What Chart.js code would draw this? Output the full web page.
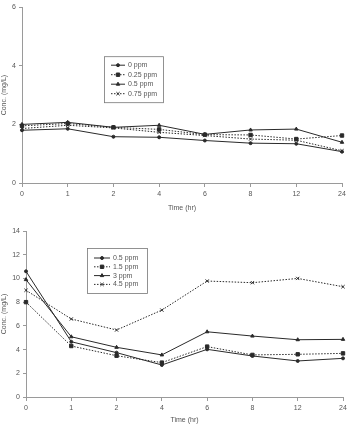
<!DOCTYPE html>
<html lang="en">
  <head>
    <meta charset="UTF-8" />
    <title>conc</title>
    <script src="https://cdn.jsdelivr.net/npm/chart.js@4.4.0/dist/chart.umd.min.js"></script>
    <style>
      body { margin: 0; background: #fff; }
      .box { position: relative; width: 350px; height: 212px; }
    </style>
  </head>
  <body>
    <div class="box"><canvas id="top"></canvas></div>
    <div class="box"><canvas id="bottom"></canvas></div>

    <script>
      // data
      const hours = ['0', '1', '2', '4', '6', '8', '12', '24'];

      const topLabels = ['0 ppm', '0.25 ppm', '0.5 ppm', '0.75 ppm'];
      const top0 = [1.80, 1.85, 1.58, 1.56, 1.45, 1.36, 1.34, 1.07];
      const top025 = [1.95, 2.03, 1.90, 1.83, 1.65, 1.64, 1.50, 1.62];
      const top05 = [2.00, 2.07, 1.90, 1.97, 1.66, 1.81, 1.84, 1.39];
      const top075 = [1.86, 1.97, 1.88, 1.73, 1.62, 1.50, 1.46, 1.10];
      const topTicks = [0, 2, 4, 6];

      const botLabels = ['0.5 ppm', '1.5 ppm', '3 ppm', '4.5 ppm'];
      const bot05 = [10.6, 4.66, 3.74, 2.70, 4.02, 3.46, 3.04, 3.26];
      const bot15 = [8.0, 4.30, 3.48, 2.90, 4.25, 3.55, 3.60, 3.68];
      const bot3 = [9.9, 5.08, 4.19, 3.55, 5.50, 5.14, 4.83, 4.86];
      const bot45 = [9.0, 6.58, 5.65, 7.33, 9.78, 9.64, 10.0, 9.30];
      const botTicks = [0, 2, 4, 6, 8, 10, 12, 14];

      const ink = '#2a2a2a';
      const txt = '#555';
      const axisCol = '#9a9a9a';
      const fnt = { family: 'Liberation Sans, Arial, sans-serif', size: 7 };

      const styles = [
        { pointStyle: 'circle', pointRadius: 1.5, dash: [] },
        { pointStyle: 'rect', pointRadius: 2.4, dash: [1.5, 1.5] },
        { pointStyle: 'triangle', pointRadius: 2, dash: [] },
        { pointStyle: 'crossRot', pointRadius: 2.3, dash: [1.5, 1.5] }
      ];

      function makeSets(labels, series) {
        return series.map(function (d, i) {
          return {
            label: labels[i],
            data: d,
            borderColor: ink,
            backgroundColor: ink,
            borderWidth: 1,
            borderDash: styles[i].dash,
            pointStyle: styles[i].pointStyle,
            pointRadius: styles[i].pointRadius,
            pointBorderWidth: 1,
            tension: 0
          };
        });
      }

      // legend box drawn inside the plot
      const boxLegend = {
        id: 'boxLegend',
        afterDraw(chart, args, opts) {
          const ctx = chart.ctx;
          const a = chart.chartArea;
          const x = a.left + opts.x, y = a.top + opts.y;
          ctx.save();
          ctx.strokeStyle = '#777';
          ctx.lineWidth = 0.8;
          ctx.strokeRect(x + 0.5, y + 0.5, opts.w, opts.h);
          chart.data.datasets.forEach(function (ds, i) {
            const ry = y + opts.first + i * opts.step;
            ctx.strokeStyle = ink;
            ctx.lineWidth = 1;
            ctx.setLineDash(ds.borderDash);
            ctx.beginPath();
            ctx.moveTo(x + opts.lx0, ry);
            ctx.lineTo(x + opts.lx1, ry);
            ctx.stroke();
            ctx.setLineDash([]);
            ctx.fillStyle = ink;
            Chart.helpers.drawPoint(ctx, {
              pointStyle: ds.pointStyle,
              radius: ds.pointRadius,
              borderWidth: 1
            }, x + (opts.lx0 + opts.lx1) / 2, ry);
            ctx.fillStyle = txt;
            ctx.font = '7px ' + fnt.family;
            ctx.textBaseline = 'middle';
            ctx.fillText(ds.label, x + opts.tx, ry);
          });
          ctx.restore();
        }
      };

      function makeChart(id, sets, ticks, max, yw, xh, pad, leg) {
        return new Chart(document.getElementById(id), {
          type: 'line',
          data: { labels: hours, datasets: sets },
          plugins: [boxLegend],
          options: {
            responsive: true,
            maintainAspectRatio: false,
            animation: false,
            layout: { padding: pad },
            plugins: {
              legend: { display: false },
              tooltip: { enabled: false },
              boxLegend: leg
            },
            scales: {
              x: {
                offset: false,
                grid: { drawOnChartArea: false, color: axisCol, tickLength: 4 },
                border: { color: axisCol },
                ticks: { color: txt, font: fnt, padding: 3, maxRotation: 0 },
                title: { display: true, text: 'Time (hr)', color: txt, font: fnt, padding: { top: 2, bottom: 0 } },
                afterFit(s) { s.height = xh; }
              },
              y: {
                min: 0,
                max: max,
                afterBuildTicks(s) { s.ticks = ticks.map(function (v) { return { value: v }; }); },
                grid: { drawOnChartArea: false, color: axisCol, tickLength: 3 },
                border: { color: axisCol },
                ticks: { color: txt, font: fnt, padding: 3 },
                title: { display: true, text: 'Conc. (mg/L)', color: txt, font: fnt, padding: 0 },
                afterFit(s) { s.width = yw; }
              }
            }
          }
        });
      }

      makeChart('top', makeSets(topLabels, [top0, top025, top05, top075]), topTicks, 6, 22, 29,
        { top: 5, right: 8, left: 0, bottom: 0 },
        { x: 82, y: 49, w: 59, h: 46, first: 9, step: 9.5, lx0: 7, lx1: 21, tx: 24 });

      makeChart('bottom', makeSets(botLabels, [bot05, bot15, bot3, bot45]), botTicks, 14, 26, 27,
        { top: 19, right: 7, left: 0, bottom: 0 },
        { x: 61, y: 17, w: 60, h: 45, first: 10, step: 8.8, lx0: 7, lx1: 23, tx: 26 });
    </script>
  </body>
</html>
